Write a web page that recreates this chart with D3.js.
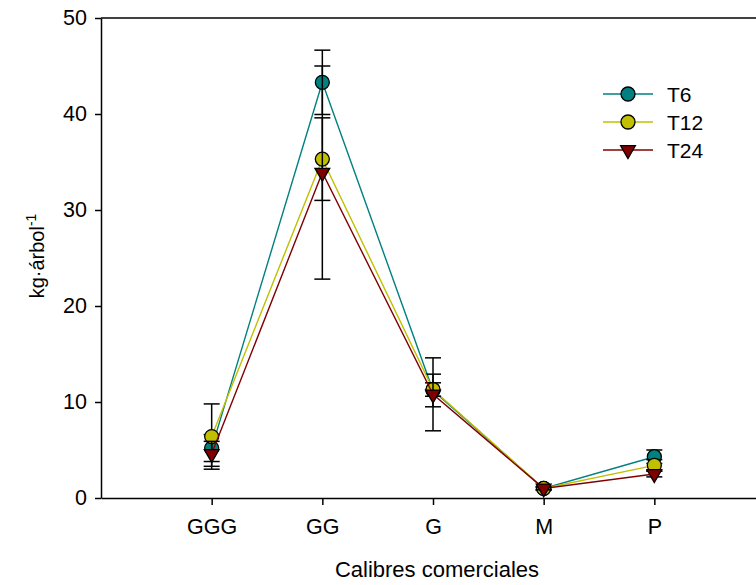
<!DOCTYPE html>
<html>
<head>
<meta charset="utf-8">
<script src="https://cdn.jsdelivr.net/npm/d3@7"></script>
<style>
  body { margin: 0; background: #fff; }
  text { font-family: "Liberation Sans", Arial, sans-serif; fill: #000; }
</style>
</head>
<body>
<div id="chart"></div>
<script>
// categories along x
var categories = ["GGG", "GG", "G", "M", "P"];

// series means (kg/arbol) and standard errors
var t6Values = [5.2, 43.3, 11.2, 1.0, 4.3];
var t6Errors = [1.4, 3.35, 1.7, 0.2, 0.7];
var t12Values = [6.4, 35.3, 11.3, 1.0, 3.4];
var t12Errors = [3.4, 4.3, 0.7, 0.1, 0.6];
var t24Values = [4.6, 33.9, 10.8, 1.0, 2.5];
var t24Errors = [1.3, 11.1, 3.8, 0.15, 0.3];

var yTicks = [0, 10, 20, 30, 40, 50];

var series = [
  { name: "T6", values: t6Values, errors: t6Errors, color: "#008080", symbol: "circle" },
  { name: "T12", values: t12Values, errors: t12Errors, color: "#c0c000", symbol: "circle" },
  { name: "T24", values: t24Values, errors: t24Errors, color: "#800000", symbol: "triangle" }
];

var svgWidth = 756;
var svgHeight = 585;

var svg = d3.select("#chart")
  .append("svg")
  .attr("width", svgWidth)
  .attr("height", svgHeight);

// x is numeric 0..6 with categories at 1..5 (frame is cut at the right edge)
var xScale = d3.scaleLinear()
  .domain([0, 6])
  .range([101, 765]);

var yScale = d3.scaleLinear()
  .domain([0, 50])
  .range([498, 18]);

// top frame line
svg.append("line")
  .attr("x1", xScale(0)).attr("x2", xScale(6))
  .attr("y1", yScale(50)).attr("y2", yScale(50))
  .attr("stroke", "#000")
  .attr("stroke-width", 1.5);

// axes
var bottomAxis = d3.axisBottom(xScale)
  .tickValues([1, 2, 3, 4, 5])
  .tickFormat(function (d) { return categories[d - 1]; })
  .tickSizeInner(7)
  .tickSizeOuter(0)
  .tickPadding(14);

var leftAxis = d3.axisLeft(yScale)
  .tickValues(yTicks)
  .tickSizeInner(6)
  .tickSizeOuter(0)
  .tickPadding(8);

var xAxis = svg.append("g")
  .attr("transform", `translate(0, ${yScale(0)})`)
  .call(bottomAxis);

var yAxis = svg.append("g")
  .attr("transform", `translate(${xScale(0)}, 0)`)
  .call(leftAxis);

[xAxis, yAxis].forEach(function (ax) {
  ax.select(".domain").attr("stroke", "#000").attr("stroke-width", 1.5);
  ax.selectAll(".tick line").attr("stroke", "#000").attr("stroke-width", 1.5);
  ax.selectAll(".tick text")
    .style("font-family", "Liberation Sans, Arial, sans-serif")
    .style("font-size", "21.5px")
    .attr("fill", "#000");
});

// axis titles
svg.append("text")
  .attr("x", 437)
  .attr("y", 577)
  .attr("text-anchor", "middle")
  .style("font-size", "22px")
  .text("Calibres comerciales");

var yLabel = svg.append("text")
  .attr("transform", "translate(44, 256) rotate(-90)")
  .attr("text-anchor", "middle")
  .style("font-size", "20px");
yLabel.append("tspan").text("kg·árbol");
yLabel.append("tspan")
  .attr("dy", -8)
  .style("font-size", "14px")
  .text("-1");

var triangle = d3.symbol().type(d3.symbolTriangle).size(95);

function drawSymbol(g, s, x, y) {
  if (s.symbol === "circle") {
    g.append("circle")
      .attr("cx", x).attr("cy", y).attr("r", 7)
      .attr("fill", s.color)
      .attr("stroke", "#000")
      .attr("stroke-width", 1.3);
  } else {
    g.append("path")
      .attr("d", triangle)
      .attr("transform", `translate(${x}, ${y}) rotate(180)`)
      .attr("fill", s.color)
      .attr("stroke", "#000")
      .attr("stroke-width", 1.3);
  }
}

var line = d3.line()
  .x(function (d, i) { return xScale(i + 1); })
  .y(function (d) { return yScale(d); });

series.forEach(function (s) {
  var g = svg.append("g");

  g.append("path")
    .datum(s.values)
    .attr("d", line)
    .attr("fill", "none")
    .attr("stroke", s.color)
    .attr("stroke-width", 1.4);

  // error bars
  s.values.forEach(function (v, i) {
    var x = xScale(i + 1);
    var lo = yScale(v - s.errors[i]);
    var hi = yScale(v + s.errors[i]);
    g.append("line")
      .attr("x1", x).attr("x2", x).attr("y1", lo).attr("y2", hi)
      .attr("stroke", "#000").attr("stroke-width", 1.5);
    [lo, hi].forEach(function (yy) {
      g.append("line")
        .attr("x1", x - 8).attr("x2", x + 8).attr("y1", yy).attr("y2", yy)
        .attr("stroke", "#000").attr("stroke-width", 1.5);
    });
  });

  s.values.forEach(function (v, i) {
    drawSymbol(g, s, xScale(i + 1), yScale(v));
  });
});

// legend
var legend = svg.append("g");
series.forEach(function (s, i) {
  var yy = 94 + i * 28;
  legend.append("line")
    .attr("x1", 603).attr("x2", 653).attr("y1", yy).attr("y2", yy)
    .attr("stroke", s.color).attr("stroke-width", 1.4);
  drawSymbol(legend, s, 628, yy);
  legend.append("text")
    .attr("x", 667)
    .attr("y", yy + 8)
    .style("font-size", "21px")
    .text(s.name);
});
</script>
</body>
</html>
